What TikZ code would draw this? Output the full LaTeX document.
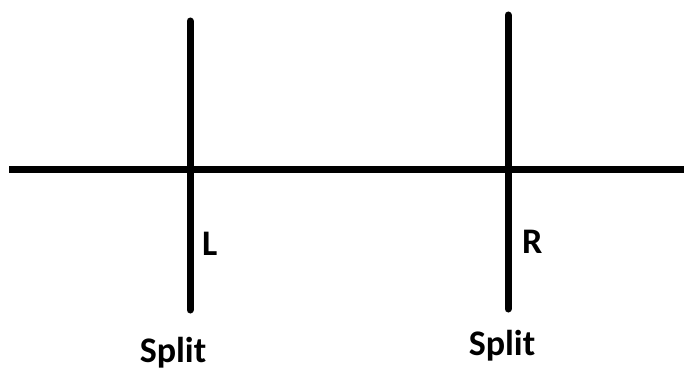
\documentclass[tikz,border=0pt]{standalone}
\usepackage{fontspec}
\setmainfont{Carlito}
\usetikzlibrary{positioning}

\begin{document}
\begin{tikzpicture}[x=1pt,y=-1pt,
  bar/.style={line width=7pt,black},
  post/.style={bar,line cap=round},
  lbl/.style={font=\bfseries\fontsize{36}{42}\selectfont,inner sep=0pt}]
\useasboundingbox (0,0) rectangle (684,369);
% main line
\coordinate (w) at (9,169);
\coordinate (e) at (684,169);
\draw[bar] (w)--(e);
% the two splits
\coordinate (lt) at (190,21);
\coordinate (lb) at (190,310);
\coordinate (rt) at (508,15);
\coordinate (rb) at (508,309);
\draw[post] (lt)--(lb);
\draw[post] (rt)--(rb);
\node[lbl,anchor=base west] (l) at (202,255) {L};
\node[lbl,anchor=base west] (r) at (522,253) {R};
\node[lbl,anchor=base] (ls) at (173,362) {Split};
\node[lbl,anchor=base] (rs) at (502,355) {Split};
\end{tikzpicture}
\end{document}
